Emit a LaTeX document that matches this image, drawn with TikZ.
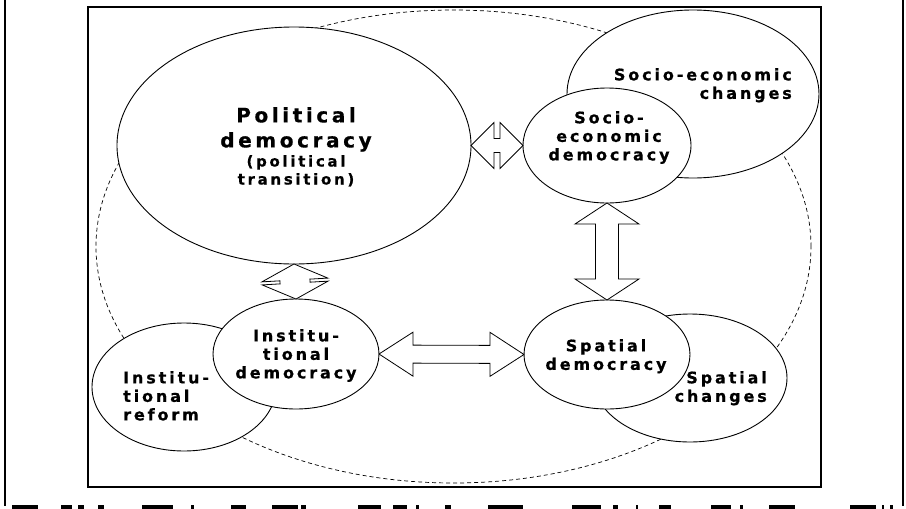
\documentclass[tikz,border=0pt]{standalone}
\usepackage{fontspec}
\newfontfamily\labelfont[LetterSpace=18, FakeBold=0.6]{DejaVu Sans Bold}
\usetikzlibrary{shapes.geometric,calc,positioning}

\tikzset{
  bubble/.style={ellipse, draw, fill=white, line width=0.9pt, inner sep=0pt, outer sep=0pt},
  tag/.style={font=\labelfont\fontsize{16}{18.5}\selectfont, inner sep=0pt, align=center},
  big tag/.style={tag, font=\labelfont\fontsize{20}{25}\selectfont},
  note tag/.style={tag, font=\labelfont\fontsize{15}{18}\selectfont},
  fat arrow/.style={draw, fill=white, line width=0.8pt, line join=miter},
  guide/.style={line width=0.7pt, dash pattern=on 4pt off 3pt}
}

% hollow double arrow: from, to, head length, head half width, shaft half width
\newcommand{\fatarrow}[5]{%
  \draw[fat arrow] (#1)
    -- ($(#1)!#3!(#2)!#4!90:(#2)$) -- ($(#1)!#3!(#2)!#5!90:(#2)$)
    -- ($(#2)!#3!(#1)!#5!-90:(#1)$) -- ($(#2)!#3!(#1)!#4!-90:(#1)$)
    -- (#2)
    -- ($(#2)!#3!(#1)!#4!90:(#1)$) -- ($(#2)!#3!(#1)!#5!90:(#1)$)
    -- ($(#1)!#3!(#2)!#5!-90:(#2)$) -- ($(#1)!#3!(#2)!#4!-90:(#2)$)
    -- cycle;}

\begin{document}
\begin{tikzpicture}[x=1pt, y=-1pt]
\pgfmathsetmacro{\bartop}{505};
\pgfmathsetmacro{\barbot}{509};
\useasboundingbox (0,0) rectangle (906,509);
% page frame and box
\draw[line width=1.4pt] (5,0)--(5,506);
\draw[line width=1.4pt] (903,0)--(903,506);
\draw[line width=1.8pt] (88,7) rectangle (821,487);
\foreach \a/\b in {12/38, 61/72, 78/84, 98/104, 142/173, 191/194, 231/246, 272/298, 301/306,
  358/381, 393/407, 416/419, 445/451, 488/523, 572/601, 613/618, 636/638, 659/671, 711/731,
  740/743, 769/795, 850/876, 882/884, 890/893}
  \fill (\a,\bartop) rectangle (\b,\barbot);
% outer dashed ring
\draw[guide] (453.5,246.5) ellipse [x radius=357.5pt, y radius=236.5pt];
% bubbles
\node[bubble, minimum width=184pt, minimum height=128pt] (inr) at (184,387) {};
\node[bubble, minimum width=166pt, minimum height=110pt] (ind) at (296,354) {};
\node[bubble, minimum width=252pt, minimum height=168pt] (sec) at (693,94) {};
\node[bubble, minimum width=168pt, minimum height=115pt] (sed) at (607,145.5) {};
\node[bubble, minimum width=194pt, minimum height=128pt] (spc) at (690,378) {};
\node[bubble, minimum width=166pt, minimum height=109pt] (spd) at (607,354.5) {};
\node[bubble, minimum width=354pt, minimum height=237pt] (pol) at (294,145.5) {};
% links
\fatarrow{pol.east}{sed.west}{23pt}{23pt}{7pt}
\fatarrow{pol.south}{ind.north}{16pt}{33pt}{15pt}
\fatarrow{sed.south}{spd.north}{21pt}{32pt}{11.5pt}
\fatarrow{ind.east}{spd.west}{34pt}{22pt}{9pt}
% texts
\node[big tag, anchor=north] (pol-title) at (296,107) {Political\\democracy};
\node[note tag, below=3pt of pol-title] (pol-note) {(political\\transition)};
\node[tag, align=right, anchor=north east] (sec-txt) at (792,68) {Socio-economic\\changes};
\node[tag, anchor=north] (sed-txt) at (609,111) {Socio-\\economic\\democracy};
\node[tag, anchor=north] (ind-txt) at (296,329) {Institu-\\tional\\democracy};
\node[tag, align=left, anchor=north west] (inr-txt) at (123,371) {Institu-\\tional\\reform};
\node[tag, anchor=north] (spd-txt) at (606,339) {Spatial\\democracy};
\node[tag, align=right, anchor=north east] (spc-txt) at (767,371) {Spatial\\changes};
\end{tikzpicture}
\end{document}
